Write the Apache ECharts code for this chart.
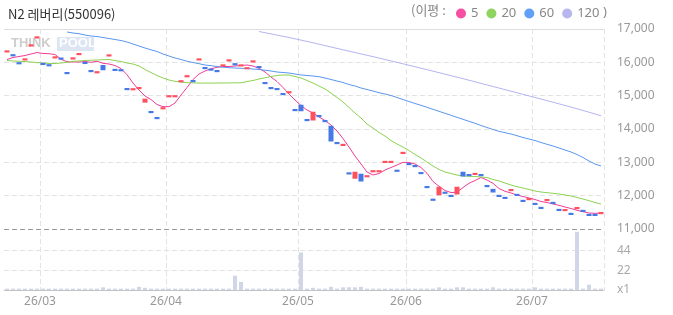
<!DOCTYPE html>
<html><head><meta charset="utf-8">
<script src="https://cdn.jsdelivr.net/npm/echarts@6/dist/echarts.min.js"></script>
<style>html,body{margin:0;padding:0;background:#fff}#c{width:673px;height:315px}</style>
</head><body><div id="c"></div>
<script>
const categories = [
'2026-02-20','2026-02-23','2026-02-24','2026-02-25','2026-02-26','2026-02-27',
'2026-03-03','2026-03-04','2026-03-05','2026-03-06','2026-03-09','2026-03-10','2026-03-11','2026-03-12','2026-03-13','2026-03-16','2026-03-17','2026-03-18','2026-03-19','2026-03-20','2026-03-23','2026-03-24','2026-03-25','2026-03-26','2026-03-27','2026-03-30','2026-03-31',
'2026-04-01','2026-04-02','2026-04-03','2026-04-06','2026-04-07','2026-04-08','2026-04-09','2026-04-10','2026-04-13','2026-04-14','2026-04-15','2026-04-16','2026-04-17','2026-04-20','2026-04-21','2026-04-22','2026-04-23','2026-04-24','2026-04-27','2026-04-28','2026-04-29','2026-04-30',
'2026-05-04','2026-05-06','2026-05-07','2026-05-08','2026-05-11','2026-05-12','2026-05-13','2026-05-14','2026-05-15','2026-05-18','2026-05-19','2026-05-20','2026-05-21','2026-05-22','2026-05-26','2026-05-27','2026-05-28','2026-05-29',
'2026-06-01','2026-06-02','2026-06-04','2026-06-05','2026-06-08','2026-06-09','2026-06-10','2026-06-11','2026-06-12','2026-06-15','2026-06-16','2026-06-17','2026-06-18','2026-06-19','2026-06-22','2026-06-23','2026-06-24','2026-06-25','2026-06-26','2026-06-29','2026-06-30',
'2026-07-01','2026-07-02','2026-07-03','2026-07-06','2026-07-07','2026-07-08','2026-07-09','2026-07-10','2026-07-13','2026-07-14','2026-07-15','2026-07-16'
];
const opens = [
16325,16215,15975,16085,16505,16745,15955,15915,16145,16115,
15680,16115,16245,15985,15740,15700,15890,16205,15775,15765,
15200,15190,15225,14820,14510,14330,14620,14980,14980,15430,
15580,15440,16085,15830,15785,15740,15905,16055,15945,15905,
15820,16025,15860,15380,15230,15200,15050,15100,14570,14695,
14270,14285,14390,14240,14065,13580,13520,12670,12535,12625,
12580,12730,12730,13010,13010,12750,13280,12950,12890,12680,
12260,11880,12040,12090,11995,12065,12685,12620,12650,12620,
12290,12175,11995,11935,12165,12025,11845,11895,11755,11635,
11865,11785,11575,11565,11455,11625,11545,11425,11425,11475
];
const closes = [
16330,16210,15970,16090,16510,16750,15950,15910,16150,16110,
15675,16120,16250,15980,15735,15705,15795,16210,15770,15760,
15195,15195,15230,14880,14505,14325,14625,14985,14985,15435,
15585,15435,16090,15825,15780,15735,15910,16060,15940,15910,
15825,16030,15855,15375,15225,15195,15045,15105,14565,14565,
14265,14490,14385,14235,13655,13575,13525,12665,12685,12455,
12585,12735,12735,13015,13015,12745,13285,12945,12885,12675,
12255,11875,12235,12085,11990,12235,12605,12615,12655,12615,
12285,12125,11990,11930,12170,12020,11840,11900,11750,11630,
11870,11780,11570,11570,11450,11630,11540,11420,11420,11480
];
const volumes = [
1.5,1.5,1.5,1.5,1.5,1.5,1.5,1.5,1.5,1.5,
1.5,1.5,1.5,1.5,1.5,1.5,3,1.5,1.5,1.5,
1.5,1.5,3.5,2.5,1.5,1.5,1.5,1.5,1.5,1.5,
1.5,1.5,1.5,1.5,1.5,1.5,1.5,1.5,16,9,
1.5,1.5,1.5,1.5,1.5,1.5,1.5,1.5,1.5,42,
1.5,2.5,1.5,1.5,3.5,1.5,3,3,3,3.5,
1.5,1.5,1.5,1.5,1.5,1.5,1.5,1.5,1.5,1.5,
1.5,1.5,3,1.5,1.5,3,3,1.5,1.5,1.5,
1.5,3,1.5,1.5,1.5,1.5,1.5,1.5,3,1.5,
1.5,1.5,1.5,1.5,1.5,65,1.5,6,1.5,1.5
];
const ma5 = [
16082,16145,16175,16205,16250,16295,16265,16259,16235,16091,
16019,16010,16010,16025,16001,16031,15971,15950,15905,15815,
15629,15380,15170,14990,14885,14735,14669,14669,14780,15020,
15245,15485,15650,15740,15806,15851,15875,15875,15890,15905,
15920,15890,15821,15710,15560,15425,15245,15050,14870,14705,
14570,14480,14360,14255,14120,13940,13715,13460,13190,12950,
12710,12620,12665,12770,12845,12920,13001,12995,12950,12845,
12671,12425,12281,12155,12095,12101,12245,12371,12455,12545,
12470,12371,12215,12131,12080,12020,11975,11930,11885,11825,
11795,11750,11711,11660,11615,11561,11519,11480,11471,11471
];
const ma20 = [
16055,16040,16031,16025,16010,15995,15980,15965,15965,15980,
16001,16031,16040,16055,16064,16070,16079,16085,16055,16025,
15980,15950,15890,15785,15695,15605,15530,15470,15431,15410,
15389,15383,15380,15378,15378,15380,15380,15382,15384,15386,
15425,15455,15500,15536,15575,15605,15620,15620,15575,15530,
15455,15380,15290,15200,15080,14945,14810,14645,14480,14330,
14150,14030,13895,13790,13655,13550,13460,13355,13235,13130,
13010,12890,12785,12710,12665,12620,12590,12581,12575,12560,
12545,12485,12440,12380,12320,12269,12230,12185,12140,12110,
12089,12071,12050,12020,11990,11945,11900,11849,11795,11750
];
const ma60 = [
null,null,null,null,null,null,null,null,null,null,
16910,16880,16859,16820,16790,16775,16745,16715,16685,16655,
16610,16550,16490,16430,16376,16325,16250,16190,16130,16085,
16031,15995,15959,15920,15899,15875,15854,15839,15830,15821,
15815,15800,15785,15764,15740,15710,15695,15680,15650,15620,
15605,15590,15569,15530,15485,15440,15395,15335,15290,15230,
15185,15140,15089,15050,15005,14945,14885,14825,14765,14711,
14651,14591,14531,14471,14411,14351,14291,14231,14171,14105,
14045,13985,13931,13889,13850,13799,13745,13700,13655,13595,
13541,13490,13430,13370,13310,13235,13145,13040,12950,12890
];
const ma120 = [
null,null,null,null,null,null,null,null,null,null,
null,null,null,null,null,null,null,null,null,null,
null,null,null,null,null,null,null,null,null,null,
null,null,null,null,null,null,null,null,null,null,
null,null,16925,16889,16853,16817,16781,16745,16706,16667,
16628,16586,16544,16502,16460,16418,16376,16335,16294,16253,
16212,16170,16128,16085,16042,15999,15956,15912,15868,15824,
15780,15735,15690,15645,15600,15555,15510,15463,15416,15369,
15322,15275,15228,15181,15134,15087,15040,14993,14946,14899,
14851,14803,14755,14706,14657,14607,14556,14504,14451,14397
];
const maNames = ['5','20','60','120'];
const maColors = ['#f03c96','#8cd250','#5a96f0','#b4b4f0'];
const legendColors = ['#f54ea2','#8fd460','#62a0f8','#b7b7ee'];
const priceMin = 11000, priceMax = 17000, priceStep = 1000;
const volMax = 66, volStep = 22;

const chart = echarts.init(document.getElementById('c'), null, {renderer:'canvas'});
const isMonthStart = (i) => i > 0 && categories[i].slice(5,7) !== categories[i-1].slice(5,7);
const candleData = opens.map((o,i)=>[o, closes[i], Math.min(o,closes[i]), Math.max(o,closes[i])]);
const FONT = "'Noto Sans', 'Noto Sans CJK KR', sans-serif";
const maSeries = [ma5, ma20, ma60, ma120].map((d,k)=>({
  name: maNames[k], type:'line', data:d, xAxisIndex:0, yAxisIndex:0,
  symbol:'none', color: legendColors[k], lineStyle:{color:maColors[k], width:1},
  itemStyle:{color:legendColors[k]}, silent:true, z:2
}));
const option = {
  animation:false,
  textStyle:{fontFamily:FONT},
  title:{text:'N2 레버리(550096)', left:3, top:3, textStyle:{fontSize:13, fontWeight:'normal', color:'#333', fontFamily:"'Noto Sans CJK KR', sans-serif"}},
  legend:{data:maNames.map((n,k)=>({name:n, icon:'circle', itemStyle:{color:legendColors[k]}})), left:451, top:2, itemWidth:10, itemHeight:10, itemGap:8, selectedMode:false, textStyle:{color:'#888', fontSize:13, fontFamily:FONT}},
  graphic:[
    {type:'text', left:411, top:4, style:{text:'(이평 :', fill:'#888', font:"13px 'Noto Sans CJK KR', sans-serif"}},
    {type:'text', left:603, top:6, z:100, style:{text:')', fill:'#888', font:"13px 'Noto Sans', sans-serif"}},
    {type:'text', left:11, top:37, style:{text:'THINK', fill:'#b8b8b8', opacity:0.7, font:"bold 13px 'Liberation Sans', sans-serif"}},
    {type:'rect', left:57, top:37, shape:{width:37, height:14}, style:{fill:'#cfd9ec', opacity:0.7}},
    {type:'text', left:59, top:37, style:{text:'POOL', fill:'#ffffff', opacity:0.95, font:"bold 13px 'Liberation Sans', sans-serif"}}
  ],
  grid:[{left:4, right:69, top:29, height:200}, {left:4, right:69, top:231, height:59}],
  xAxis:[
    {type:'category', data:categories, gridIndex:0, boundaryGap:true, axisLine:{show:false}, axisTick:{show:false}, axisLabel:{show:false},
     splitLine:{show:true, interval:(i)=>isMonthStart(i), lineStyle:{color:'#e3e3e3', type:[5,3]}}},
    {type:'category', data:categories, gridIndex:1, boundaryGap:true, axisLine:{show:true, lineStyle:{color:'#c4c4c4', width:1}}, axisTick:{show:false},
     axisLabel:{interval:(i)=>isMonthStart(i), formatter:(v)=>v.slice(2,4)+'/'+v.slice(5,7), color:'#999', fontSize:12, margin:6, padding:[0,6,0,0]},
     splitLine:{show:true, interval:(i)=>isMonthStart(i), lineStyle:{color:'#e3e3e3', type:[5,3]}}}
  ],
  yAxis:[
    {type:'value', gridIndex:0, position:'right', min:priceMin, max:priceMax, interval:priceStep, axisLine:{show:false}, axisTick:{show:false},
     axisLabel:{color:'#999', fontSize:12, margin:13, formatter:(v)=>v.toLocaleString('en-US')},
     splitLine:{lineStyle:{color:['#999','#e3e3e3','#e3e3e3','#e3e3e3','#e3e3e3','#e3e3e3','#e3e3e3'], type:[5,3]}}},
    {type:'value', gridIndex:1, position:'right', min:0, max:volMax, interval:volStep, axisLine:{show:false}, axisTick:{show:false},
     axisLabel:{color:'#aaa', fontSize:12, margin:13, formatter:(v)=> v===0?'x1':(v===volMax?'':String(v))},
     splitLine:{lineStyle:{color:['rgba(0,0,0,0)','#e3e3e3','#e3e3e3','rgba(0,0,0,0)'], type:[5,3]}}}
  ],
  series:[
    ...maSeries,
    {name:'candle', type:'candlestick', data:candleData, xAxisIndex:0, yAxisIndex:0, barWidth:3, z:3,
     itemStyle:{color:'#ff5060', color0:'#4678e6', borderColor:'#ff5060', borderColor0:'#4678e6', borderWidth:2},
     markLine:{silent:true, symbol:['none','none'], label:{show:false}, lineStyle:{color:'#ddd', type:'solid', width:1}, data:[{yAxis:priceMax}]}},
    {name:'vol', type:'bar', data:volumes, xAxisIndex:1, yAxisIndex:1, barWidth:4, itemStyle:{color:'#d0d6e8'}, silent:true}
  ]
};
chart.setOption(option);
</script></body></html>
